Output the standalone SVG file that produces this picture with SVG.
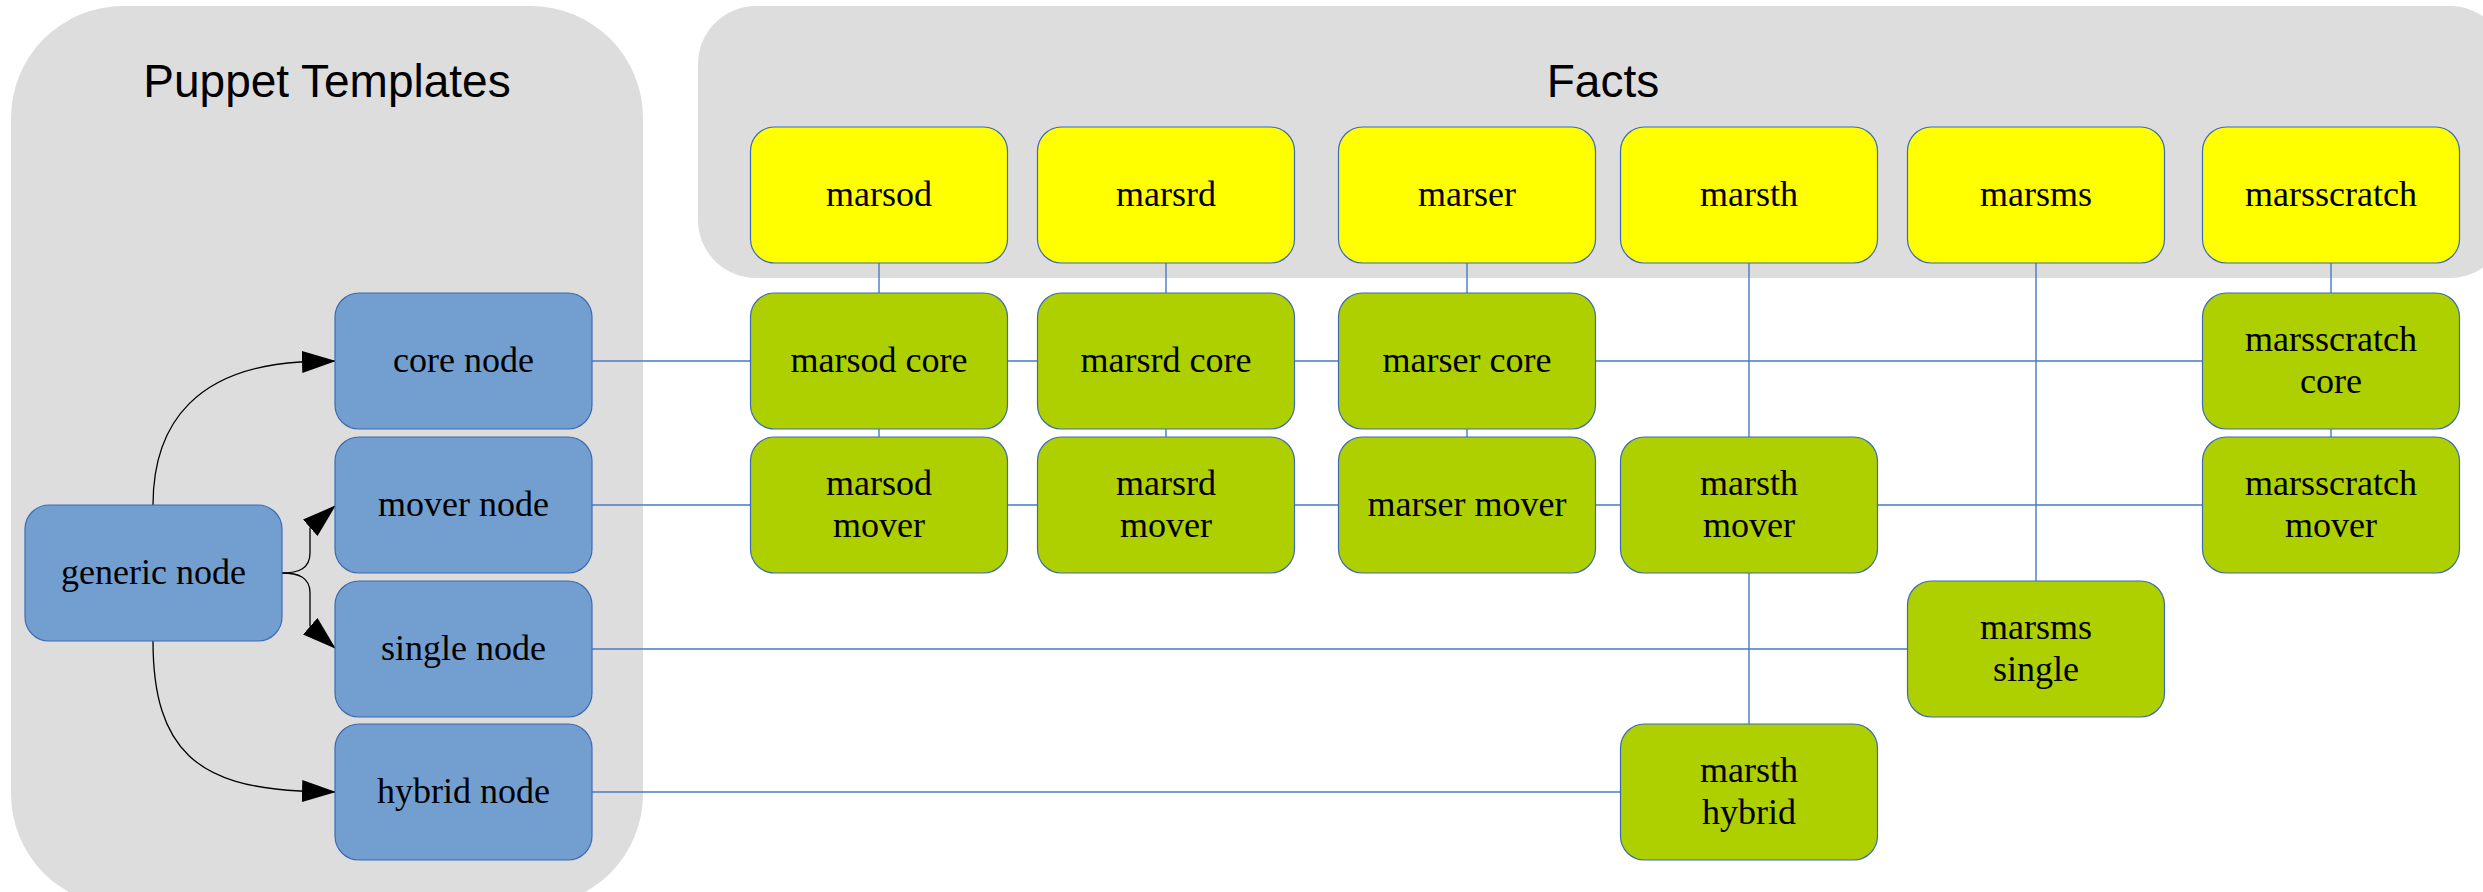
<svg xmlns="http://www.w3.org/2000/svg" width="2483" height="892" viewBox="0 0 2483 892">
<style>
.cluster{fill:#dddddd;stroke:none}
.title{font-family:"Liberation Sans",Arial,sans-serif;font-size:46px;fill:#000;text-anchor:middle}
.lbl{font-family:"Liberation Serif","Times New Roman",serif;font-size:36px;fill:#000;text-anchor:middle}
.blue{fill:#729fcf;stroke:#3d6bb3;stroke-width:1.2}
.yellow{fill:#ffff00;stroke:#3d6bb3;stroke-width:1.2}
.green{fill:#aecf00;stroke:#3d6bb3;stroke-width:1.2}
.link{stroke:#4a78c8;stroke-width:1.4;fill:none}
.arrow{stroke:#000;stroke-width:1.3;fill:none;marker-end:url(#ah)}
</style>
<defs>
<marker id="ah" markerUnits="userSpaceOnUse" markerWidth="34" markerHeight="22" viewBox="0 0 34 22" refX="33" refY="11" orient="auto">
<path d="M0,0 L34,11 L0,22 z" fill="#000"/>
</marker>
</defs>
<rect width="2483" height="892" fill="#ffffff"/>
<g id="cluster_puppet">
<rect class="cluster" x="11" y="6" width="632" height="900" rx="112" ry="112"/>
<text class="title" x="327" y="97">Puppet Templates</text>
</g>
<g id="cluster_facts">
<rect class="cluster" x="698" y="6" width="1810" height="272" rx="58" ry="58"/>
<text class="title" x="1603" y="97">Facts</text>
</g>
<g id="connectors">
<path class="link" d="M592,361 H2202.5"/>
<path class="link" d="M592,505 H2202.5"/>
<path class="link" d="M592,649 H1907.5"/>
<path class="link" d="M592,792 H1620.5"/>
<path class="link" d="M879,263 V437"/>
<path class="link" d="M1166,263 V437"/>
<path class="link" d="M1467,263 V437"/>
<path class="link" d="M2331,263 V437"/>
<path class="link" d="M1749,263 V437 M1749,573 V724"/>
<path class="link" d="M2036,263 V581"/>
<path class="arrow" d="M153,505 C153,420 200,368 300,362 L335,361"/>
<path class="arrow" d="M153,641 C153,752 200,786 300,791 L335,792"/>
<path class="arrow" d="M282,573 C298,573 310,569 310,553 L310,528 L335,506"/>
<path class="arrow" d="M282,573 C298,573 310,577 310,593 L310,626 L335,648"/>
</g>
<g id="generic_node"><rect class="blue" x="25" y="505" width="257" height="136" rx="24"/><text class="lbl" x="153.5" y="584">generic node</text></g>
<g id="core_node"><rect class="blue" x="335" y="293" width="257" height="136" rx="24"/><text class="lbl" x="463.5" y="372">core node</text></g>
<g id="mover_node"><rect class="blue" x="335" y="437" width="257" height="136" rx="24"/><text class="lbl" x="463.5" y="516">mover node</text></g>
<g id="single_node"><rect class="blue" x="335" y="581" width="257" height="136" rx="24"/><text class="lbl" x="463.5" y="660">single node</text></g>
<g id="hybrid_node"><rect class="blue" x="335" y="724" width="257" height="136" rx="24"/><text class="lbl" x="463.5" y="803">hybrid node</text></g>
<g id="marsod"><rect class="yellow" x="750.5" y="127" width="257" height="136" rx="24"/><text class="lbl" x="879" y="206">marsod</text></g>
<g id="marsrd"><rect class="yellow" x="1037.5" y="127" width="257" height="136" rx="24"/><text class="lbl" x="1166" y="206">marsrd</text></g>
<g id="marser"><rect class="yellow" x="1338.5" y="127" width="257" height="136" rx="24"/><text class="lbl" x="1467" y="206">marser</text></g>
<g id="marsth"><rect class="yellow" x="1620.5" y="127" width="257" height="136" rx="24"/><text class="lbl" x="1749" y="206">marsth</text></g>
<g id="marsms"><rect class="yellow" x="1907.5" y="127" width="257" height="136" rx="24"/><text class="lbl" x="2036" y="206">marsms</text></g>
<g id="marsscratch"><rect class="yellow" x="2202.5" y="127" width="257" height="136" rx="24"/><text class="lbl" x="2331" y="206">marsscratch</text></g>
<g id="marsod_core"><rect class="green" x="750.5" y="293" width="257" height="136" rx="24"/><text class="lbl" x="879" y="372">marsod core</text></g>
<g id="marsrd_core"><rect class="green" x="1037.5" y="293" width="257" height="136" rx="24"/><text class="lbl" x="1166" y="372">marsrd core</text></g>
<g id="marser_core"><rect class="green" x="1338.5" y="293" width="257" height="136" rx="24"/><text class="lbl" x="1467" y="372">marser core</text></g>
<g id="marsscratch_core"><rect class="green" x="2202.5" y="293" width="257" height="136" rx="24"/><text class="lbl" x="2331" y="351">marsscratch</text><text class="lbl" x="2331" y="393">core</text></g>
<g id="marsod_mover"><rect class="green" x="750.5" y="437" width="257" height="136" rx="24"/><text class="lbl" x="879" y="495">marsod</text><text class="lbl" x="879" y="537">mover</text></g>
<g id="marsrd_mover"><rect class="green" x="1037.5" y="437" width="257" height="136" rx="24"/><text class="lbl" x="1166" y="495">marsrd</text><text class="lbl" x="1166" y="537">mover</text></g>
<g id="marser_mover"><rect class="green" x="1338.5" y="437" width="257" height="136" rx="24"/><text class="lbl" x="1467" y="516">marser mover</text></g>
<g id="marsth_mover"><rect class="green" x="1620.5" y="437" width="257" height="136" rx="24"/><text class="lbl" x="1749" y="495">marsth</text><text class="lbl" x="1749" y="537">mover</text></g>
<g id="marsscratch_mover"><rect class="green" x="2202.5" y="437" width="257" height="136" rx="24"/><text class="lbl" x="2331" y="495">marsscratch</text><text class="lbl" x="2331" y="537">mover</text></g>
<g id="marsms_single"><rect class="green" x="1907.5" y="581" width="257" height="136" rx="24"/><text class="lbl" x="2036" y="639">marsms</text><text class="lbl" x="2036" y="681">single</text></g>
<g id="marsth_hybrid"><rect class="green" x="1620.5" y="724" width="257" height="136" rx="24"/><text class="lbl" x="1749" y="782">marsth</text><text class="lbl" x="1749" y="824">hybrid</text></g>
</svg>
